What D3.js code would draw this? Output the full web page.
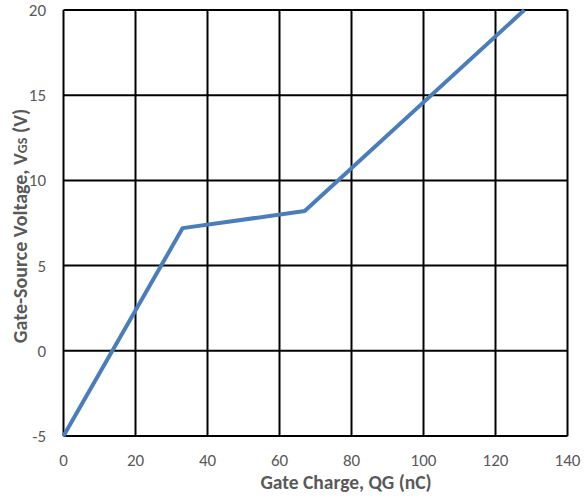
<!DOCTYPE html>
<html>
<head>
<meta charset="utf-8">
<script src="https://cdn.jsdelivr.net/npm/d3@7"></script>
<style>
body { margin: 0; background: #fff; }
text { font-family: Carlito, "Open Sans", "Liberation Sans", sans-serif; }
</style>
</head>
<body>
<svg id="chart" width="588" height="496"></svg>
<script>
// gate charge curve
var qg = [0, 33.1, 67, 128];
var vgs = [-5, 7.2, 8.2, 20];
var xTicks = [0, 20, 40, 60, 80, 100, 120, 140];
var yTicks = [-5, 0, 5, 10, 15, 20];

var svg = d3.select("#chart"),
margin = {left: 63.5, right: 20, top: 10, bottom: 60},
width = +svg.attr("width"),
height = +svg.attr("height");

var x = d3.scaleLinear().domain([0, 140]).range([margin.left, 567.5]);
var y = d3.scaleLinear().domain([-5, 20]).range([436, margin.top]);

var grid = svg.append("g").attr("stroke", "#000").attr("stroke-width", 2);
grid.selectAll(".vx").data(xTicks).enter().append("line")
  .attr("x1", d => x(d)).attr("x2", d => x(d))
  .attr("y1", y(-5)).attr("y2", y(20));
grid.selectAll(".hy").data(yTicks).enter().append("line")
  .attr("x1", x(0)).attr("x2", x(140))
  .attr("y1", d => y(d)).attr("y2", d => y(d));

var pts = qg.map(function(d, i) { return [d, vgs[i]]; });
svg.append("path")
  .datum(pts)
  .attr("fill", "none")
  .attr("stroke", "#4a7ebb")
  .attr("stroke-width", 4)
  .attr("stroke-linejoin", "round")
  .attr("d", d3.line().x(d => x(d[0])).y(d => y(d[1])));

// tick labels
svg.selectAll(".xt").data(xTicks).enter().append("text")
  .attr("x", d => x(d)).attr("y", 466)
  .attr("text-anchor", "middle")
  .attr("fill", "#595959").style("font-size", "17px")
  .text(d => d);
svg.selectAll(".yt").data(yTicks).enter().append("text")
  .attr("x", 46).attr("y", d => y(d) + 6)
  .attr("text-anchor", "end")
  .attr("fill", "#595959").style("font-size", "17px")
  .text(d => d);

// axis titles
var xt = svg.append("text")
  .attr("x", 346).attr("y", 489)
  .attr("text-anchor", "middle")
  .attr("fill", "#595959").style("font-size", "19.5px").style("font-weight", "bold");
xt.append("tspan").text("Gate Charge, QG (nC)");

var yt = svg.append("text")
  .attr("transform", "translate(27,226) rotate(-90)")
  .attr("text-anchor", "middle")
  .attr("fill", "#595959").style("font-size", "20px").style("font-weight", "bold");
yt.append("tspan").text("Gate-Source Voltage, V");
yt.append("tspan").style("font-size", "14px").text("GS");
yt.append("tspan").text(" (V)");
</script>
</body>
</html>
